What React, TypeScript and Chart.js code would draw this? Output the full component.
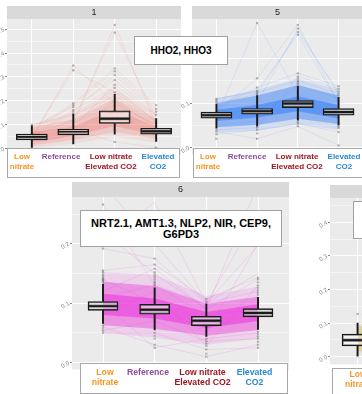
import React, { useEffect, useRef } from "react";
import { Chart, registerables } from "chart.js";
Chart.register(...registerables);

const FONT = '"Liberation Sans", Arial, sans-serif';
Chart.defaults.font.family = FONT;

const categories = ["Low\nnitrate", "Reference", "Low nitrate\nElevated CO2", "Elevated\nCO2"];
const categoryColors = ["#F7941D", "#8E4A9C", "#A01623", "#2A88CF"];

// ---- Panel 1 (HHO2, HHO3) ----
const p1Low = [0.005, 0.02, 0.06, 0.03];
const p1Q1 = [0.036, 0.057, 0.105, 0.06];
const p1Median = [0.049, 0.072, 0.125, 0.073];
const p1Q3 = [0.061, 0.081, 0.158, 0.085];
const p1High = [0.095, 0.146, 0.227, 0.126];
const p1Outliers = [
  [0.1],
  [0.154, 0.162, 0.174, 0.182, 0.19, 0.328, 0.348],
  [0.235, 0.255, 0.267, 0.287, 0.308, 0.324, 0.336, 0.486, 0.518, 0.028],
  [0.142, 0.154, 0.166, 0.182, 0.005],
];
const p1BandWide = [[0.0, 0.02, 0.05, 0.025], [0.1, 0.15, 0.25, 0.145]];
const p1BandOuter = [[0.012, 0.037, 0.068, 0.042], [0.088, 0.122, 0.21, 0.122]];
const p1BandInner = [[0.028, 0.052, 0.095, 0.055], [0.068, 0.092, 0.165, 0.092]];
const p1Lines = [
  [0.04, 0.348, 0.19, 0.1],
  [0.05, 0.328, 0.236, 0.12],
  [0.06, 0.1, 0.518, 0.1],
  [0.05, 0.12, 0.486, 0.13],
  [0.08, 0.19, 0.336, 0.182],
  [0.07, 0.182, 0.324, 0.166],
  [0.05, 0.154, 0.308, 0.154],
  [0.09, 0.174, 0.287, 0.142],
  [0.04, 0.09, 0.267, 0.14],
  [0.06, 0.162, 0.255, 0.11],
  [0.03, 0.08, 0.028, 0.005],
  [0.1, 0.14, 0.22, 0.12],
  [0.02, 0.06, 0.2, 0.09],
  [0.07, 0.11, 0.18, 0.1],
];

// ---- Panel 5 ----
const p5Low = [0.044, 0.048, 0.062, 0.051];
const p5Q1 = [0.066, 0.075, 0.09, 0.073];
const p5Median = [0.073, 0.082, 0.099, 0.08];
const p5Q3 = [0.08, 0.088, 0.106, 0.088];
const p5High = [0.098, 0.117, 0.138, 0.113];
const p5Outliers = [
  [0.102, 0.106, 0.11, 0.04, 0.036, 0.03, 0.02],
  [0.12, 0.124, 0.128, 0.135, 0.156, 0.28, 0.045, 0.04, 0.032, 0.02],
  [0.142, 0.146, 0.15, 0.155, 0.16, 0.167, 0.254, 0.26, 0.268, 0.276, 0.058, 0.054, 0.048],
  [0.117, 0.121, 0.126, 0.132, 0.138, 0.048, 0.044, 0.035, 0.005],
];
const p5BandWide = [[0.034, 0.038, 0.052, 0.04], [0.11, 0.13, 0.155, 0.13]];
const p5BandOuter = [[0.046, 0.051, 0.065, 0.053], [0.1, 0.117, 0.14, 0.117]];
const p5BandInner = [[0.06, 0.068, 0.082, 0.066], [0.085, 0.096, 0.115, 0.096]];
const p5Lines = [
  [0.07, 0.28, 0.12, 0.09],
  [0.08, 0.156, 0.276, 0.1],
  [0.06, 0.1, 0.268, 0.12],
  [0.09, 0.135, 0.167, 0.138],
  [0.11, 0.128, 0.254, 0.1],
  [0.04, 0.045, 0.16, 0.132],
  [0.1, 0.12, 0.26, 0.126],
  [0.036, 0.02, 0.048, 0.005],
  [0.03, 0.04, 0.054, 0.035],
  [0.11, 0.124, 0.15, 0.121],
  [0.05, 0.06, 0.142, 0.11],
];

// ---- Panel 6 (NRT2.1, AMT1.3, NLP2, NIR, CEP9, G6PD3) ----
const p6Low = [0.066, 0.055, 0.044, 0.056];
const p6Q1 = [0.088, 0.0815, 0.062, 0.077];
const p6Median = [0.095, 0.089, 0.0705, 0.0836];
const p6Q3 = [0.1028, 0.098, 0.078, 0.0907];
const p6High = [0.132, 0.126, 0.099, 0.11];
const p6Outliers = [
  [0.136, 0.138, 0.14, 0.142, 0.145, 0.148, 0.152, 0.155, 0.192, 0.266, 0.062, 0.058, 0.054, 0.05],
  [0.13, 0.133, 0.136, 0.14, 0.144, 0.148, 0.152, 0.158, 0.165, 0.175, 0.05, 0.045, 0.04, 0.03, 0.025],
  [0.103, 0.107, 0.04, 0.036, 0.032, 0.028, 0.022, 0.015, 0.01],
  [0.114, 0.118, 0.122, 0.126, 0.13, 0.135, 0.14, 0.143, 0.197, 0.052, 0.048, 0.044, 0.04, 0.035, 0.03, 0.025],
];
const p6BandWide = [[0.05, 0.042, 0.03, 0.04], [0.152, 0.148, 0.112, 0.128]];
const p6BandOuter = [[0.063, 0.057, 0.045, 0.055], [0.136, 0.129, 0.099, 0.111]];
const p6BandInner = [[0.08, 0.074, 0.058, 0.07], [0.116, 0.108, 0.085, 0.098]];
const p6Lines = [
  [0.266, 0.13, 0.08, 0.09],
  [0.192, 0.175, 0.1, 0.197],
  [0.155, 0.165, 0.107, 0.143],
  [0.12, 0.158, 0.09, 0.14],
  [0.06, 0.03, 0.01, 0.03],
  [0.05, 0.05, 0.022, 0.025],
  [0.1, 0.025, 0.04, 0.05],
  [0.14, 0.1, 0.05, 0.2],
  [0.08, 0.12, 0.028, 0.13],
  [0.054, 0.07, 0.036, 0.04],
  [0.3, 0.2, 0.1, 0.15],
  [0.22, 0.15, 0.09, 0.3],
  [0.2, 0.27, 0.1, 0.12],
  [0.11, 0.13, 0.1, 0.25],
];

// ---- Panel 7 (partly visible) ----
const p7Low = [0.0, 0.01, 0.02, 0.01];
const p7Q1 = [0.032, 0.04, 0.05, 0.04];
const p7Median = [0.049, 0.055, 0.07, 0.055];
const p7Q3 = [0.067, 0.07, 0.09, 0.07];
const p7High = [0.1, 0.11, 0.14, 0.11];
const p7Outliers = [[0.127], [], [], []];
const p7BandWide = [[0.005, 0.01, 0.02, 0.01], [0.1, 0.11, 0.13, 0.11]];
const p7BandOuter = [[0.015, 0.02, 0.03, 0.02], [0.09, 0.1, 0.12, 0.1]];
const p7BandInner = [[0.03, 0.038, 0.05, 0.038], [0.07, 0.075, 0.095, 0.075]];
const p7Lines = [[0.127, 0.1, 0.12, 0.09]];

// label centres inside each x-label box (px from the box's left edge)
const labelPosTop = [15, 54, 104, 151];
const labelPosPanel6 = [25, 68, 122.5, 174.5];
const labelPosPanel7 = [26, 76, 130, 180];

const AXIS_W = 24;

type PanelDef = {
  label: string;
  color: number[];
  plotLeft: number; plotTop: number; plotRight: number; plotBottom: number;
  stripH: number; zeroPx: number; pxPerUnit: number;
  low: number[]; q1: number[]; median: number[]; q3: number[]; high: number[];
  outliers: number[][]; bandWide: number[][]; bandOuter: number[][]; bandInner: number[][]; lines: number[][];
  alphas: number[]; lineAlpha: number; boxW: number;
};

const panels: PanelDef[] = [
  { label: "1", color: [240, 110, 100], plotLeft: 7, plotTop: 19, plotRight: 181, plotBottom: 159, stripH: 13, zeroPx: 153, pxPerUnit: 247,
    low: p1Low, q1: p1Q1, median: p1Median, q3: p1Q3, high: p1High, outliers: p1Outliers,
    bandWide: p1BandWide, bandOuter: p1BandOuter, bandInner: p1BandInner, lines: p1Lines,
    alphas: [0.1, 0.2, 0.28], lineAlpha: 0.18, boxW: 31 },
  { label: "5", color: [60, 130, 245], plotLeft: 192, plotTop: 19, plotRight: 363, plotBottom: 159, stripH: 13, zeroPx: 152, pxPerUnit: 460,
    low: p5Low, q1: p5Q1, median: p5Median, q3: p5Q3, high: p5High, outliers: p5Outliers,
    bandWide: p5BandWide, bandOuter: p5BandOuter, bandInner: p5BandInner, lines: p5Lines,
    alphas: [0.15, 0.45, 0.6], lineAlpha: 0.15, boxW: 31 },
  { label: "6", color: [235, 60, 220], plotLeft: 72, plotTop: 197, plotRight: 289, plotBottom: 374, stripH: 15, zeroPx: 367, pxPerUnit: 610,
    low: p6Low, q1: p6Q1, median: p6Median, q3: p6Q3, high: p6High, outliers: p6Outliers,
    bandWide: p6BandWide, bandOuter: p6BandOuter, bandInner: p6BandInner, lines: p6Lines,
    alphas: [0.15, 0.42, 0.6], lineAlpha: 0.18, boxW: 30 },
  { label: "7", color: [200, 170, 50], plotLeft: 330, plotTop: 198, plotRight: 523, plotBottom: 369, stripH: 13, zeroPx: 361, pxPerUnit: 345,
    low: p7Low, q1: p7Q1, median: p7Median, q3: p7Q3, high: p7High, outliers: p7Outliers,
    bandWide: p7BandWide, bandOuter: p7BandOuter, bandInner: p7BandInner, lines: p7Lines,
    alphas: [0.12, 0.3, 0.4], lineAlpha: 0.15, boxW: 31 },
];

const isMajor = (v: number) => Math.round(v * 100) % 10 === 0;

function buildChart(canvas: HTMLCanvasElement, p: PanelDef) {
  const rgba = (a: number) => `rgba(${p.color.join(",")},${a})`;
  const pts = (arr: number[]) => arr.map((y, i) => ({ x: i, y }));
  const datasets: any[] = [];
  const band = (pair: number[][], alpha: number, order: number) => {
    datasets.push({ type: "line", data: pts(pair[0]), borderWidth: 0, pointRadius: 0, fill: false, order });
    datasets.push({ type: "line", data: pts(pair[1]), borderWidth: 0, pointRadius: 0, fill: "-1", backgroundColor: rgba(alpha), order });
  };
  band(p.bandWide, p.alphas[0], 101);
  band(p.bandOuter, p.alphas[1], 100);
  band(p.bandInner, p.alphas[2], 99);
  p.lines.forEach((l) => {
    datasets.push({ type: "line", data: pts(l), borderColor: rgba(p.lineAlpha), borderWidth: 0.8, pointRadius: 0, fill: false, order: 90 });
  });
  const whisk = (a: number[], b: number[]) => ({
    type: "bar", data: a.map((v, i) => ({ x: i, y: [v, b[i]] })), backgroundColor: "#1a1a1a",
    barThickness: 1.3, grouped: false, order: 30,
  });
  datasets.push(whisk(p.low, p.q1));
  datasets.push(whisk(p.q3, p.high));
  const box = (a: number[], b: number[]) => ({
    type: "bar", data: a.map((v, i) => ({ x: i, y: [v, b[i]] })), backgroundColor: "rgba(255,255,255,0.5)",
    borderColor: "#1a1a1a", borderWidth: 1.3, borderSkipped: false, barThickness: p.boxW, grouped: false, order: 20,
  });
  datasets.push(box(p.q1, p.median));
  datasets.push(box(p.median, p.q3));
  datasets.push({
    type: "line", data: p.outliers.flatMap((arr, i) => arr.map((y) => ({ x: i, y }))), showLine: false,
    pointRadius: 1.2, pointBackgroundColor: "rgba(0,0,0,0.28)", pointBorderWidth: 0, order: 10,
  });

  const yMax = (p.zeroPx - p.plotTop) / p.pxPerUnit;
  const yMin = -(p.plotBottom - p.zeroPx) / p.pxPerUnit;

  const bgPlugin = {
    id: "panelBg",
    beforeDraw(chart: any) {
      const { ctx, chartArea: a } = chart;
      ctx.save();
      ctx.fillStyle = "#EBEBEB";
      ctx.fillRect(a.left, a.top, a.right - a.left, a.bottom - a.top);
      ctx.fillStyle = "#D9D9D9";
      ctx.fillRect(a.left, a.top - p.stripH, a.right - a.left, p.stripH);
      ctx.fillStyle = "#1A1A1A";
      ctx.font = `9px ${FONT}`;
      ctx.textAlign = "center";
      ctx.textBaseline = "middle";
      ctx.fillText(p.label, (a.left + a.right) / 2, a.top - p.stripH / 2 + 0.5);
      ctx.restore();
    },
  };

  return new Chart(canvas, {
    type: "bar",
    data: { datasets },
    options: {
      animation: false,
      responsive: false,
      devicePixelRatio: 1,
      layout: { padding: { top: p.stripH, left: 0, right: 0, bottom: 0 }, autoPadding: false },
      plugins: { legend: { display: false }, tooltip: { enabled: false } },
      scales: {
        x: {
          type: "linear", min: -0.6, max: 3.6, offset: false,
          afterFit: (s: any) => { s.height = 0; },
          border: { display: false },
          grid: { color: "#FFFFFF", lineWidth: 1, drawTicks: false, offset: false },
          ticks: { display: false, stepSize: 1, includeBounds: false },
        },
        y: {
          min: yMin, max: yMax,
          afterFit: (s: any) => { s.width = AXIS_W; },
          border: { display: false },
          grid: {
            color: "#FFFFFF",
            lineWidth: (c: any) => (c.tick && isMajor(c.tick.value) ? 1 : 0.5),
            tickLength: 2,
            tickColor: (c: any) => (c.tick && isMajor(c.tick.value) ? "#8A8A8A" : "rgba(0,0,0,0)"),
          },
          ticks: {
            stepSize: 0.05, includeBounds: false, autoSkip: false,
            callback: (v: any) => (isMajor(Number(v)) ? (Math.round(Number(v) * 10) / 10).toFixed(1) : ""),
            color: "#8A8A8A", font: { size: 6 }, minRotation: 30, maxRotation: 30, padding: 1,
          },
        },
      },
    } as any,
    plugins: [bgPlugin],
  } as any);
}

function PanelChart({ p }: { p: PanelDef }) {
  const ref = useRef<HTMLCanvasElement>(null);
  const w = AXIS_W + (p.plotRight - p.plotLeft);
  const h = p.stripH + (p.plotBottom - p.plotTop);
  useEffect(() => {
    const chart = buildChart(ref.current as HTMLCanvasElement, p);
    return () => chart.destroy();
  }, []);
  return (
    <canvas ref={ref} width={w} height={h}
      style={{ position: "absolute", left: p.plotLeft - AXIS_W, top: p.plotTop - p.stripH, width: w, height: h }} />
  );
}

function LegendBox({ pos, left, top, width, height, fontSize, padTop }: any) {
  return (
    <div style={{ position: "absolute", left, top, width, height, background: "#fff", border: "1px solid #A8A8A8", boxSizing: "border-box" }}>
      {categories.map((c, i) => (
        <div key={i} style={{
          position: "absolute", left: pos[i] - 1 - 40, width: 80, top: padTop, textAlign: "center",
          color: categoryColors[i], fontWeight: "bold", fontSize, lineHeight: "10px", whiteSpace: "pre",
        }}>{c}</div>
      ))}
    </div>
  );
}

function GeneBox({ left, top, width, height, fontSize, text }: any) {
  return (
    <div style={{
      position: "absolute", left, top, width, height, background: "#fff", border: "1px solid #A0A0A0", boxSizing: "border-box",
      display: "flex", alignItems: "center", justifyContent: "center", textAlign: "center",
      fontWeight: "bold", fontSize, lineHeight: `${fontSize}px`, color: "#000", whiteSpace: "pre",
    }}>{text}</div>
  );
}

export default function App() {
  return (
    <div style={{ position: "fixed", left: 0, top: 0, width: 362, height: 394, overflow: "hidden", background: "#fff", fontFamily: FONT }}>
      {panels.map((p, i) => <PanelChart key={i} p={p} />)}
      <LegendBox pos={labelPosTop} left={7} top={148} width={173} height={30} fontSize={8} padTop={3} />
      <LegendBox pos={labelPosTop} left={193} top={148} width={175} height={30} fontSize={8} padTop={3} />
      <LegendBox pos={labelPosPanel6} left={80} top={363} width={208} height={31} fontSize={8.7} padTop={3} />
      <LegendBox pos={labelPosPanel7} left={332} top={368} width={180} height={27} fontSize={8.5} padTop={0} />
      <GeneBox left={134} top={36} width={94} height={29} fontSize={10} text={"HHO2, HHO3"} />
      <GeneBox left={80} top={210} width={202} height={37} fontSize={11} text={"NRT2.1, AMT1.3, NLP2, NIR, CEP9,\nG6PD3"} />
      <GeneBox left={353} top={201} width={80} height={38} fontSize={11} text={""} />
    </div>
  );
}
